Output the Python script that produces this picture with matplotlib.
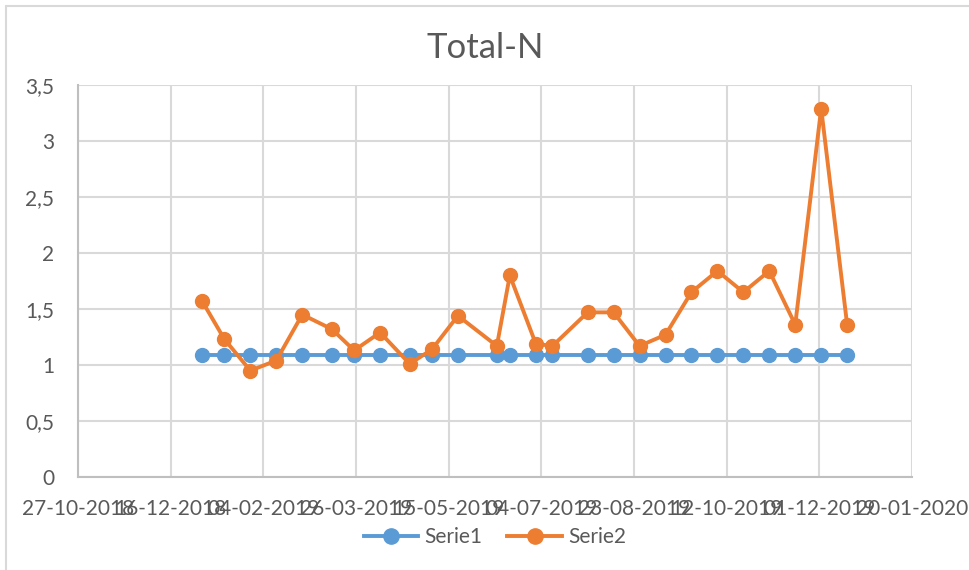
import matplotlib
matplotlib.use("Agg")
import matplotlib.pyplot as plt
import matplotlib.dates as mdates
import numpy as np
from matplotlib.patches import Rectangle
from matplotlib.ticker import FuncFormatter

# ---- data ----
dates_serie1 = ["2019-01-02", "2019-01-14", "2019-01-28", "2019-02-11", "2019-02-25",
                "2019-03-13", "2019-03-25", "2019-04-08", "2019-04-24", "2019-05-06",
                "2019-05-20", "2019-06-10", "2019-06-17", "2019-07-01", "2019-07-10",
                "2019-07-29", "2019-08-12", "2019-08-26", "2019-09-09", "2019-09-23",
                "2019-10-07", "2019-10-21", "2019-11-04", "2019-11-18", "2019-12-02",
                "2019-12-16"]
serie1 = [1.09] * 26
serie2 = [1.57, 1.23, 0.95, 1.04, 1.45, 1.32, 1.13, 1.29, 1.01, 1.14,
          1.44, 1.17, 1.80, 1.19, 1.17, 1.47, 1.47, 1.17, 1.27, 1.65,
          1.84, 1.65, 1.84, 1.36, 3.29, 1.36]
x_ticks = ["2018-10-27", "2018-12-16", "2019-02-04", "2019-03-26", "2019-05-15",
           "2019-07-04", "2019-08-23", "2019-10-12", "2019-12-01", "2020-01-20"]
y_ticks = [0, 0.5, 1, 1.5, 2, 2.5, 3, 3.5]
title = "Total-N"
series_names = ["Serie1", "Serie2"]

# ---- style ----
plt.rcParams['font.family'] = ['Lato', 'DejaVu Sans']
TXT = "#595959"
GRID = "#D9D9D9"
BLUE = "#5B9BD5"
ORANGE = "#ED7D31"

W, H = 970, 570
fig = plt.figure(figsize=(W / 100, H / 100), dpi=100)
fig.patch.set_facecolor("white")

# chart border (left/top visible)
fig.patches.append(Rectangle((6 / W, -0.1), 1.2, (H - 6) / H + 0.1, transform=fig.transFigure,
                             fill=False, edgecolor=GRID, linewidth=1.5))

left, right, top, bottom = 78, 912, 85, 477
ax = fig.add_axes([left / W, 1 - bottom / H, (right - left) / W, (bottom - top) / H])

d1 = np.array(dates_serie1, dtype="datetime64[D]")
xt = np.array(x_ticks, dtype="datetime64[D]")

ax.plot(d1, serie1, color=BLUE, linewidth=2.8, marker="o", markersize=10,
        label=series_names[0], zorder=3)
ax.plot(d1, serie2, color=ORANGE, linewidth=2.8, marker="o", markersize=10,
        label=series_names[1], zorder=4)

ax.set_xlim(xt[0], xt[-1])
ax.set_ylim(y_ticks[0], y_ticks[-1])
ax.set_xticks(xt)
ax.xaxis.set_major_formatter(mdates.DateFormatter("%d-%m-%Y"))
ax.set_yticks(y_ticks)
ax.yaxis.set_major_formatter(FuncFormatter(lambda v, p: f"{v:g}".replace(".", ",")))

ax.grid(True, color=GRID, linewidth=1.5, zorder=0)
ax.set_axisbelow(True)
for s in ax.spines.values():
    s.set_visible(False)
ax.spines['left'].set_visible(True)
ax.spines['left'].set_color("#BFBFBF")
ax.spines['left'].set_linewidth(1.5)
ax.spines['bottom'].set_visible(True)
ax.spines['bottom'].set_color("#BFBFBF")
ax.spines['bottom'].set_linewidth(1.5)

ax.tick_params(axis="both", length=0, labelsize=15, labelcolor=TXT)
ax.tick_params(axis="y", pad=17)
ax.tick_params(axis="x", pad=16)

fig.text(0.5, 1 - 48 / H, title, ha="center", va="center", fontsize=25, color=TXT)

leg = fig.legend(loc="center", bbox_to_anchor=(495 / W, 1 - 537 / H), ncol=2,
                 frameon=False, fontsize=15, handlelength=2.6, columnspacing=1.2,
                 handletextpad=0.3, markerscale=1.1)
for t in leg.get_texts():
    t.set_color(TXT)

fig.savefig("out.png", dpi=100, facecolor="white")
